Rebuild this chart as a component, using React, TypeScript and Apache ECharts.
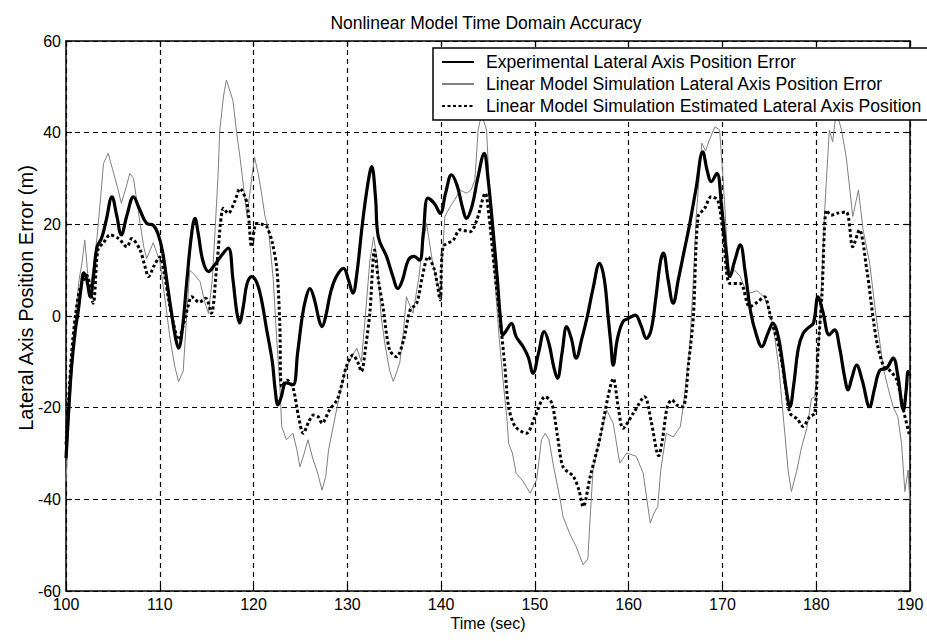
import React, { useEffect, useRef } from "react";
import * as echarts from "echarts";

const titleText = "Nonlinear Model Time Domain Accuracy";
const xName = "Time (sec)";
const yName = "Lateral Axis Position Error (m)";
const seriesNames = [
  "Experimental Lateral Axis Position Error",
  "Linear Model Simulation Lateral Axis Position Error",
  "Linear Model Simulation Estimated Lateral Axis Position",
];

const expTime = [
  100, 100.3, 100.6, 101.0, 101.3, 101.6, 101.9, 102.2, 102.6, 102.9, 103.3, 103.8, 104.3, 104.9, 105.4, 105.9,
  106.5, 107.2, 107.8, 108.6, 109.3, 109.8, 110.3, 110.8, 111.3, 111.7, 112.0, 112.4, 112.9, 113.4, 113.75, 114.1,
  114.6, 115.2, 115.8, 116.5, 117.3, 117.8, 118.2, 118.5, 118.9, 119.3, 119.8, 120.3, 120.8, 121.4, 122.0, 122.3,
  122.6, 122.9, 123.5, 124.2, 124.7, 125.2, 125.6, 126.0, 126.5, 127.0, 127.3, 127.7, 128.2, 128.8, 129.6, 130.1,
  130.6, 131.0, 131.6, 132.2, 132.6, 133.0, 133.3, 134.2, 134.8, 135.4, 135.9, 136.5, 137.1, 137.7, 138.1, 138.6,
  139.3, 139.9, 140.5, 141.1, 141.7, 142.3, 142.7, 143.3, 143.9, 144.6, 145.0, 145.3, 145.6, 146.0, 146.3, 146.6,
  147.0, 147.5, 148.0, 148.75, 149.3, 149.8, 150.4, 151.0, 151.5, 152.0, 152.4, 152.9, 153.4, 153.9, 154.4, 155.0,
  155.6, 156.2, 156.9, 157.4, 157.8, 158.1, 158.35, 158.8, 159.4, 160.0, 160.7, 161.3, 161.9, 162.4, 162.9, 163.4,
  163.7, 164.2, 164.75, 165.3, 165.9, 166.5, 167.2, 167.9, 168.4, 168.8, 169.4, 169.9, 170.4, 170.8, 171.3, 171.9,
  172.4, 173.0, 173.6, 174.2, 174.8, 175.4, 175.9, 176.4, 176.8, 177.2, 177.6, 178.1, 178.6, 179.2, 179.7, 180.2,
  180.7, 181.4, 181.95, 182.5, 183.0, 183.4, 183.8, 184.3, 184.9, 185.7, 186.2, 186.8, 187.5, 188.2, 188.7, 189.3,
  189.6, 189.8, 190,
];
const expValue = [
  -31, -20, -11, -3, 1, 6, 9.4, 8, 4.2, 8, 15, 17, 21, 26, 22, 17.7,
  22, 26, 23.5, 20.2, 19.8, 18, 14, 7, 0, -5, -7, -3, 8, 18, 21.3, 18,
  12, 9.7, 11, 13, 14.8, 8, 1, -1.5, 2, 7, 8.6, 7.5, 4, -3, -10, -16,
  -19.4, -18, -14.6, -15, -8, 0, 4, 6, 3.5, -1, -2.3, 0, 5, 8.5, 10.4, 8,
  5, 9, 20, 29, 32.6, 26, 17.3, 12.9, 9, 6, 8, 12.2, 13, 12.2, 18, 25.7,
  24.5, 22.4, 27, 30.8, 28.5, 23.5, 21.3, 24, 30, 35.5, 30, 24, 17.3, 8, 0, -4.1,
  -3, -1.6, -4.5, -6.7, -9, -12.5, -8, -3.4, -6, -11, -13.6, -8, -2.3, -5, -9.2, -5,
  0, 6, 11.5, 8, 0, -6, -10.7, -5, -1.2, -0.5, 0.2, -2, -4.9, -3, 4, 12,
  13.7, 8, 2.8, 8, 14, 20, 28, 35.8, 31.5, 29.3, 31.1, 24, 14, 8.6, 12, 15.5,
  10, 1, -4, -6.7, -4, -1.6, -4, -10, -16, -19.8, -15, -7, -3.8, -2.5, -1.6, 4.2,
  1, -4.1, -3, -7, -13, -16.1, -13.5, -10.7, -14, -19.8, -16, -11.8, -11.4, -9.2, -13, -20.5,
  -16, -12.1, -13,
];

const simTime = [
  100, 100.3, 100.7, 101.1, 101.4, 101.7, 102.0, 102.5, 103.0, 103.3, 103.7, 104.0, 104.5, 105.1, 105.5, 105.9,
  106.4, 106.8, 107.2, 107.9, 108.3, 108.6, 109.3, 110.0, 110.6, 111.1, 111.6, 112.0, 112.5, 112.8, 113.2, 113.7,
  114.3, 114.8, 115.2, 115.6, 115.9, 116.2, 116.4, 116.8, 117.1, 117.5, 117.8, 118.2, 118.55, 119.0, 119.3, 119.8,
  120.1, 120.5, 120.8, 121.2, 121.6, 122.1, 122.5, 122.8, 123.0, 123.5, 124.2, 124.6, 124.95, 125.4, 125.8, 126.3,
  126.8, 127.3, 127.7, 128.0, 128.7, 129.3, 129.9, 130.6, 131.0, 131.5, 132.0, 132.4, 132.8, 133.2, 133.6, 134.0,
  134.5, 134.9, 135.3, 135.6, 136.0, 136.3, 137.0, 137.6, 138.0, 138.45, 139.1, 139.5, 139.9, 140.4, 141.0, 141.5,
  142.0, 142.7, 143.2, 143.6, 143.95, 144.3, 144.85, 145.1, 145.4, 145.8, 146.2, 146.6, 147.0, 147.2, 147.6, 148.0,
  148.75, 149.5, 150.2, 150.7, 151.1, 151.5, 152.0, 152.7, 153.0, 153.7, 154.4, 155.15, 155.65, 155.9, 156.2, 156.9,
  157.65, 158.35, 159.05, 159.8, 160.8, 161.55, 162.3, 162.7, 163.1, 163.4, 164.0, 164.75, 165.5, 165.8, 166.5, 166.9,
  167.2, 167.8, 168.2, 168.6, 169.2, 169.7, 170.1, 170.5, 170.8, 171.3, 171.9, 172.4, 172.9, 173.7, 174.5, 175.0,
  175.4, 176.0, 176.65, 177.0, 177.35, 177.9, 178.45, 179.0, 179.5, 179.85, 180.3, 180.6, 180.9, 181.4, 181.75, 182.1,
  182.4, 182.7, 183.2, 183.9, 184.5, 185.0, 185.7, 186.4, 186.8, 187.2, 187.7, 188.2, 188.7, 189.1, 189.45, 189.8,
  190,
];
const simValue = [
  -36, -24, -10, 2, 8, 11.5, 16.6, 5, 12, 17, 26, 33.3, 35.5, 31, 28, 24.6,
  28, 31.1, 30, 20.2, 15, 12.5, 16, 12, 3, -5, -11, -14.3, -12, -2, 10, 9,
  7.5, 3, 0.6, 8, 18.8, 30, 40.6, 48, 51.5, 49, 47, 40, 34.7, 27, 21.7, 30,
  34.7, 31, 27.5, 22, 18.8, 8, -6, -15, -24.1, -27, -25.6, -29, -32.9, -30, -27, -31,
  -34, -38, -35, -29.2, -22, -16, -11, -8.5, -7, -10, 2, 12, 17.3, 12, 0, -6,
  -11.8, -14.3, -12, -10.1, -3, 4.2, 0.6, 8, 15, 20.2, 11.5, 8, 5, 21.7, 24, 25.5,
  27.5, 26.8, 27.5, 29.7, 40.6, 44, 40.6, 30, 18.8, 6, -5, -14, -22, -27.8, -29.9, -34.3,
  -36.1, -38.7, -35.6, -27, -25.6, -27, -32.9, -40.1, -43.8, -47.4, -50.3, -54.3, -53, -43.8, -33.6, -27,
  -20.5, -23.4, -32.1, -29.9, -30.6, -34.3, -45.2, -43, -41.6, -34, -25.6, -26.4, -24.2, -20, -7.4, 8,
  21.7, 37.7, 36, 38.4, 41.3, 40.6, 29, 15, 8.6, 10, 8.6, 6, 5, 5.5, 4, 1,
  -2, -11, -25.6, -33.6, -38.3, -34, -28.5, -24.5, -18, -17.6, -5, 8, 23, 40.6, 38, 44,
  42.7, 40.6, 34.7, 21.7, 27.5, 18.8, 11.5, -0.4, -6, -11.8, -16, -19.8, -22, -27.8, -38.3, -33.6,
  -41,
];

const estTime = [
  100, 100.3, 100.6, 101.0, 101.5, 102.2, 102.9, 103.4, 104.0, 104.7, 105.6, 106.5, 107.0, 107.9, 108.4, 108.8,
  109.4, 110.0, 110.5, 111.0, 111.5, 112.0, 112.5, 113.0, 113.4, 114.2, 114.9, 115.5, 116.1, 116.8, 117.3, 118.0,
  118.55, 119.3, 119.8, 120.3, 120.9, 121.4, 122.0, 122.5, 122.8, 123.0, 123.6, 124.2, 124.8, 125.3, 125.9, 126.4,
  126.9, 127.3, 128.1, 128.9, 129.4, 129.9, 130.6, 131.1, 131.5, 132.0, 132.4, 132.9, 133.3, 133.8, 134.5, 135.25,
  136.0, 136.7, 137.4, 138.0, 138.6, 139.3, 139.9, 140.2, 141.3, 142.0, 143.1, 143.8, 144.7, 145.2, 145.7, 146.3,
  146.8, 147.2, 147.9, 149.1, 150.0, 151.1, 151.8, 152.4, 153.0, 154.1, 154.7, 155.15, 155.9, 156.9, 157.8, 158.35,
  158.9, 159.4, 160.5, 161.7, 162.4, 163.2, 163.6, 164.1, 164.6, 165.2, 165.8, 166.4, 166.9, 167.4, 168.1, 168.8,
  169.5, 170.1, 170.8, 171.9, 172.9, 173.7, 174.5, 175.0, 175.4, 176.1, 176.7, 177.2, 178.0, 178.6, 179.3, 179.85,
  180.2, 180.6, 181.1, 181.6, 182.2, 183.2, 183.9, 184.6, 185.4, 186.1, 186.5, 187.2, 187.9, 188.6, 189.3, 189.9,
  190,
];
const estValue = [
  -28, -18, -8, 0, 6, 8.9, 2.8, 14.4, 16, 17.7, 16.9, 15.1, 16.9, 14.4, 11, 8.6,
  11, 12.9, 9, 3, -2, -5.2, -2, 2, 4.2, 3, 3.9, 0.6, 11.5, 23.5, 22.4, 25,
  27.8, 24.6, 15.1, 20.2, 20, 19.5, 16, 10, -2, -15.4, -14, -15.6, -22, -25.6, -23, -21.6,
  -22, -23.4, -20.5, -18.3, -15, -11, -8.5, -10, -12.1, -6, 0.6, 14.4, 8, 2, -7.4, -8.9,
  -5.2, 1.3, 2.8, 8.6, 12.9, 10, 3.5, 15, 16.6, 18.8, 18.4, 20.9, 26.8, 20, 10, -0.9,
  -11, -19.8, -24.1, -25.6, -22, -17.6, -19, -26, -32.9, -35, -38, -41.6, -35, -27, -17.6, -13.6,
  -20, -24.5, -21.2, -17.6, -23, -30.5, -27, -20, -18.3, -19.5, -19.8, -10, -0.1, 21.7, 23.5, 26,
  25.3, 17.3, 7.1, 7.1, 2, 3, 4.2, 1, -2.3, -7.4, -15, -21.2, -22.5, -24.1, -22, -21.2,
  -7.4, 4.2, 23.1, 22, 22.4, 22.7, 15.1, 18.8, 10, -0.9, -6, -11, -12, -14, -20.5, -25.6,
  -26,
];

const xTicks = { min: 100, max: 190, step: 10 };
const yTicks = { min: -60, max: 60, step: 20 };

const FONT = 'Arial, "Liberation Sans", sans-serif';

function pairs(t: number[], v: number[]) {
  return t.map((x, i) => [x, v[i]]);
}

export default function App() {
  const ref = useRef<HTMLDivElement>(null);
  useEffect(() => {
    document.body.style.margin = "0";
    if (!ref.current) return;
    const chart = echarts.init(ref.current, null, { renderer: "svg" });
    const gridDash = { show: true, lineStyle: { color: "#000", width: 1.2, type: [5, 4] as any } };
    const axisLine = { show: true, onZero: false, lineStyle: { color: "#000", width: 1.5 } };
    const tick = { show: true, inside: true, length: 6, lineStyle: { color: "#000", width: 1.2 } };
    chart.setOption({
      animation: false,
      backgroundColor: "#fff",
      textStyle: { fontFamily: FONT },
      title: {
        text: titleText,
        left: 481,
        top: 9,
        textAlign: "center",
        textStyle: { fontSize: 17.5, fontWeight: "normal", color: "#000", fontFamily: FONT },
      },
      legend: {
        data: seriesNames,
        orient: "vertical",
        left: 433,
        top: 48,
        padding: [5, 8, 5, 8],
        itemGap: 4,
        itemWidth: 32,
        itemHeight: 14,
        backgroundColor: "#fff",
        borderColor: "#000",
        borderWidth: 1.5,
        borderRadius: 0,
        itemStyle: { opacity: 0 },
        textStyle: { fontSize: 17.6, color: "#000", fontFamily: FONT, lineHeight: 18, padding: [0, 0, 0, 7] },
      },
      grid: { left: 66, right: 17, top: 41, bottom: 50, containLabel: false },
      xAxis: [
        {
          type: "value",
          position: "bottom",
          min: xTicks.min,
          max: xTicks.max,
          interval: xTicks.step,
          name: xName,
          nameLocation: "middle",
          nameGap: 24,
          nameMoveOverlap: false,
          nameTextStyle: { fontSize: 16, color: "#000", fontFamily: FONT },
          axisLine,
          axisTick: tick,
          axisLabel: { fontSize: 16, color: "#000", margin: 5, fontFamily: FONT },
          splitLine: gridDash,
        },
        {
          type: "value",
          position: "top",
          min: xTicks.min,
          max: xTicks.max,
          interval: xTicks.step,
          axisLine,
          axisTick: tick,
          axisLabel: { show: false },
          splitLine: { show: false },
        },
      ],
      yAxis: [
        {
          type: "value",
          position: "left",
          min: yTicks.min,
          max: yTicks.max,
          interval: yTicks.step,
          name: yName,
          nameLocation: "middle",
          nameGap: 30,
          nameMoveOverlap: false,
          nameTextStyle: { fontSize: 20, color: "#000", fontFamily: FONT, padding: [0, 0, 0, 36] },
          axisLine,
          axisTick: tick,
          axisLabel: { fontSize: 16, color: "#000", margin: 5, fontFamily: FONT },
          splitLine: gridDash,
        },
        {
          type: "value",
          position: "right",
          min: yTicks.min,
          max: yTicks.max,
          interval: yTicks.step,
          axisLine,
          axisTick: tick,
          axisLabel: { show: false },
          splitLine: { show: false },
        },
      ],
      series: [
        {
          name: seriesNames[1],
          type: "line",
          data: pairs(simTime, simValue),
          symbol: "none",
          showSymbol: false,
          lineStyle: { color: "#808080", width: 1 },
          itemStyle: { color: "#808080" },
        },
        {
          name: seriesNames[2],
          type: "line",
          data: pairs(estTime, estValue),
          symbol: "none",
          showSymbol: false,
          smooth: 0.3,
          lineStyle: { color: "#000", width: 3, type: [3, 2.5] as any },
          itemStyle: { color: "#000" },
        },
        {
          name: seriesNames[0],
          type: "line",
          data: pairs(expTime, expValue),
          symbol: "none",
          showSymbol: false,
          smooth: 0.4,
          lineStyle: { color: "#000", width: 3.2 },
          itemStyle: { color: "#000" },
        },
      ],
    });
    return () => chart.dispose();
  }, []);
  return <div ref={ref} style={{ width: 927, height: 641 }} />;
}
